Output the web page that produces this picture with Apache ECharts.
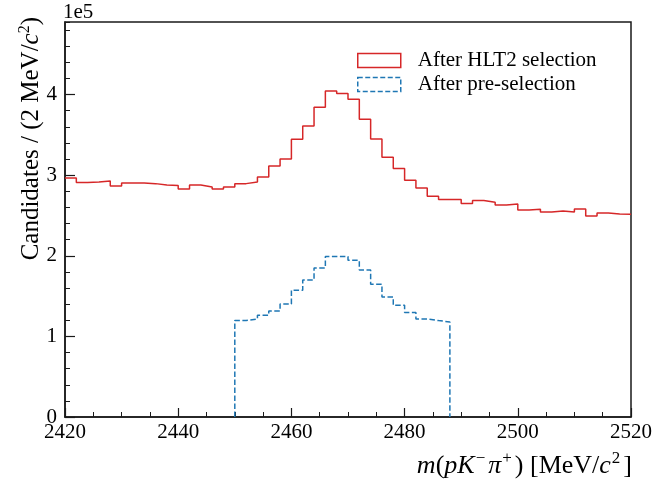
<!DOCTYPE html>
<html><head><meta charset="utf-8">
<script src="https://cdn.jsdelivr.net/npm/echarts@6/dist/echarts.min.js"></script>
<style>html,body{margin:0;padding:0;background:#fff}#c{width:655px;height:487px}</style>
</head><body><div id="c"></div>
<script>
// ---- data ----
const binWidth = 2; // MeV
const hlt2Start = 2420;
const hlt2Counts = [296500, 290800, 291600, 292800, 286600, 290300, 290300, 289500, 287800, 287100,
                    282900, 287800, 285400, 282900, 285400, 289500, 291600, 297800, 311400, 320100,
                    344500, 361100, 384200, 404500, 401200, 394200, 369400, 344900, 322200, 308200,
                    293700, 284100, 273800, 269700, 269700, 264800, 268500, 266500, 263000, 264300,
                    256800, 257700, 254300, 255600, 254300, 258100, 249400, 253100, 251900, 251500];
const preStart = 2450;
const preCounts = [119600, 121600, 126200, 131500, 140200, 157200, 170000, 184900, 199000, 199000,
                   194400, 182400, 164600, 148900, 138600, 129500, 121600, 119600, 117900];
const seriesNames = ['After HLT2 selection', 'After pre-selection'];
const xMin = 2420, xMax = 2520, xStep = 20;
const yMax = 490000, yStep = 100000, yMinorStep = 20000;
const yScale = 1e5;

function stepPoints(start, counts, closed) {
  const pts = [];
  if (closed) pts.push([start, 0]);
  counts.forEach((c, i) => {
    pts.push([start + i * binWidth, c]);
    pts.push([start + (i + 1) * binWidth, c]);
  });
  if (closed) pts.push([start + counts.length * binWidth, 0]);
  return pts;
}

const FONT = '"Liberation Serif","Times New Roman",serif';
const RED = '#d62728', BLUE = '#1f77b4', INK = '#1a1a1a';
const chart = echarts.init(document.getElementById('c'), null, {renderer: 'canvas'});

const supPad = [0, 0, 13, 0];
const option = {
  animation: false,
  backgroundColor: '#fff',
  grid: {left: 65, right: 23, top: 22, bottom: 70, show: true, borderColor: INK, borderWidth: 1.5, backgroundColor: 'transparent'},
  xAxis: {
    type: 'value', min: xMin, max: xMax, interval: xStep,
    axisLine: {show: true, onZero: false, lineStyle: {color: INK, width: 1.5}},
    axisTick: {inside: true, length: 9, lineStyle: {color: INK, width: 1.2}},
    minorTick: {show: true, splitNumber: 4, length: 5, lineStyle: {color: INK, width: 1}},
    splitLine: {show: false},
    axisLabel: {color: '#000', fontFamily: FONT, fontSize: 21, margin: 5, formatter: v => String(v)}
  },
  yAxis: [{
    type: 'value', min: 0, max: yMax, interval: yStep, position: 'left',
    axisLine: {show: true, onZero: false, lineStyle: {color: INK, width: 1.5}},
    axisTick: {inside: true, length: 10, lineStyle: {color: INK, width: 1.2}},
    splitLine: {show: false},
    axisLabel: {color: '#000', fontFamily: FONT, fontSize: 21, margin: 8, showMaxLabel: false,
      formatter: v => (v % yStep === 0 ? String(v / yScale) : '')}
  }, {
    type: 'value', min: 0, max: yMax, interval: yMinorStep, position: 'left',
    axisLine: {show: false},
    axisTick: {inside: true, length: 5, lineStyle: {color: INK, width: 1}},
    splitLine: {show: false},
    axisLabel: {show: false}
  }],
  legend: {
    left: 352, top: 45, orient: 'vertical', icon: 'rect',
    itemWidth: 43, itemHeight: 14, itemGap: 3,
    textStyle: {fontFamily: FONT, fontSize: 21, color: '#000', padding: [0, 0, 0, 12]},
    data: [
      {name: seriesNames[0], itemStyle: {color: 'transparent', borderColor: RED, borderWidth: 1.5}},
      {name: seriesNames[1], itemStyle: {color: 'transparent', borderColor: BLUE, borderWidth: 1.5, borderType: [5, 2.5]}}
    ]
  },
  series: [{
    name: seriesNames[0], type: 'line', yAxisIndex: 0,
    data: stepPoints(hlt2Start, hlt2Counts, false),
    showSymbol: false, symbol: 'none', color: RED,
    lineStyle: {color: RED, width: 1.5}, z: 3
  }, {
    name: seriesNames[1], type: 'line', yAxisIndex: 0,
    data: stepPoints(preStart, preCounts, true),
    showSymbol: false, symbol: 'none', color: BLUE,
    lineStyle: {color: BLUE, width: 1.5, type: [5.5, 2.5]}, z: 3
  }],
  graphic: [
    {type: 'text', x: 63, y: 12, style: {text: '1e5', fontFamily: FONT, fontSize: 21, fill: '#000', align: 'left', verticalAlign: 'middle'}},
    {type: 'text', x: 31, y: 17, rotation: Math.PI / 2,
      style: {
        text: '{n|Candidates / (2 MeV/}{i|c}{s|2}{n|)}',
        align: 'right', verticalAlign: 'middle', fill: '#000',
        rich: {
          n: {fontFamily: FONT, fontSize: 25, fill: '#000'},
          i: {fontFamily: FONT, fontSize: 25, fontStyle: 'italic', fill: '#000'},
          s: {fontFamily: FONT, fontSize: 16, fill: '#000', padding: supPad}
        }
      }},
    {type: 'text', x: 632, y: 466,
      style: {
        text: '{i|m}{n|(}{i|pK}{s|\u2212}{i|\u03c0}{s|+}{n|) [MeV/}{i|c}{s|2}{n|]}',
        align: 'right', verticalAlign: 'middle', fill: '#000',
        rich: {
          n: {fontFamily: FONT, fontSize: 26, fill: '#000'},
          i: {fontFamily: FONT, fontSize: 26, fontStyle: 'italic', fill: '#000'},
          s: {fontFamily: FONT, fontSize: 17, fill: '#000', padding: [0, 3, 14, 1]}
        }
      }}
  ]
};
chart.setOption(option);
</script>
</body></html>
